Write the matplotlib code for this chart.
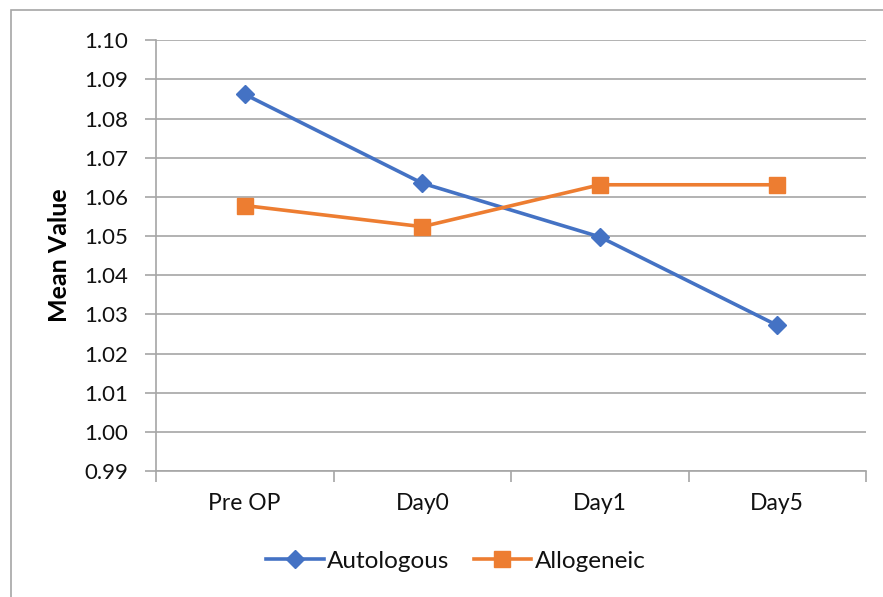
import matplotlib
matplotlib.use("Agg")
import matplotlib.pyplot as plt
from matplotlib.patches import Rectangle
import numpy as np

categories = ["Pre OP", "Day0", "Day1", "Day5"]
autologous = [1.0862, 1.0635, 1.0498, 1.0272]
allogeneic = [1.0578, 1.0524, 1.0631, 1.0631]
y_ticks = [0.99, 1.00, 1.01, 1.02, 1.03, 1.04, 1.05, 1.06, 1.07, 1.08, 1.09, 1.10]

plt.rcParams['font.family'] = ['Lato', 'DejaVu Sans']

fig = plt.figure(figsize=(8.83, 5.97), dpi=100)
fig.patch.set_facecolor("white")
# outer chart frame (partially cropped)
fig.patches.append(Rectangle((11/883, -0.05), 1.2, 1 - 10/597 + 0.05,
                             transform=fig.transFigure, fill=False,
                             edgecolor="#a6a6a6", linewidth=1.2))

ax = fig.add_axes([156/883, 1 - 471/597, (866 - 156)/883, (471 - 40.3)/597])
x = np.arange(len(categories))

ax.plot(x, autologous, color="#4472C4", linewidth=2.6, marker="D",
        markersize=9.5, label="Autologous", zorder=3)
ax.plot(x, allogeneic, color="#ED7D31", linewidth=2.6, marker="s",
        markersize=11, label="Allogeneic", zorder=3)

ax.set_xlim(-0.5, len(categories) - 0.5)
ax.set_ylim(0.99, 1.10)
ax.set_yticks(y_ticks)
ax.set_yticklabels([f"{v:.2f}" for v in y_ticks])
ax.yaxis.grid(True, color="#a6a6a6", linewidth=1.2)
ax.set_axisbelow(True)

ax.set_xticks(x)
ax.set_xticklabels(categories)
ax.set_xticks(np.arange(-0.5, len(categories)), minor=True)
ax.tick_params(axis="x", which="major", length=0, pad=16, labelsize=16.5,
               labelcolor="#111111")
ax.tick_params(axis="x", which="minor", length=8, color="#a6a6a6", width=1.2)
ax.tick_params(axis="y", length=8, color="#a6a6a6", width=1.2, pad=12,
               labelsize=16, labelcolor="#111111")

for s in ["top", "right"]:
    ax.spines[s].set_visible(False)
for s in ["left", "bottom"]:
    ax.spines[s].set_color("#a6a6a6")
    ax.spines[s].set_linewidth(1.2)

ax.set_ylabel("Mean Value", fontsize=18, fontweight="bold")
ax.yaxis.set_label_coords(-0.12, 0.5)

leg = fig.legend(loc="center", bbox_to_anchor=(456/883, 1 - 561/597), ncol=2,
                 frameon=False, fontsize=17.5, handlelength=2.35, columnspacing=1.0,
                 handletextpad=0.15)
for t in leg.get_texts():
    t.set_color("#111111")

fig.savefig("out.png", dpi=100)
